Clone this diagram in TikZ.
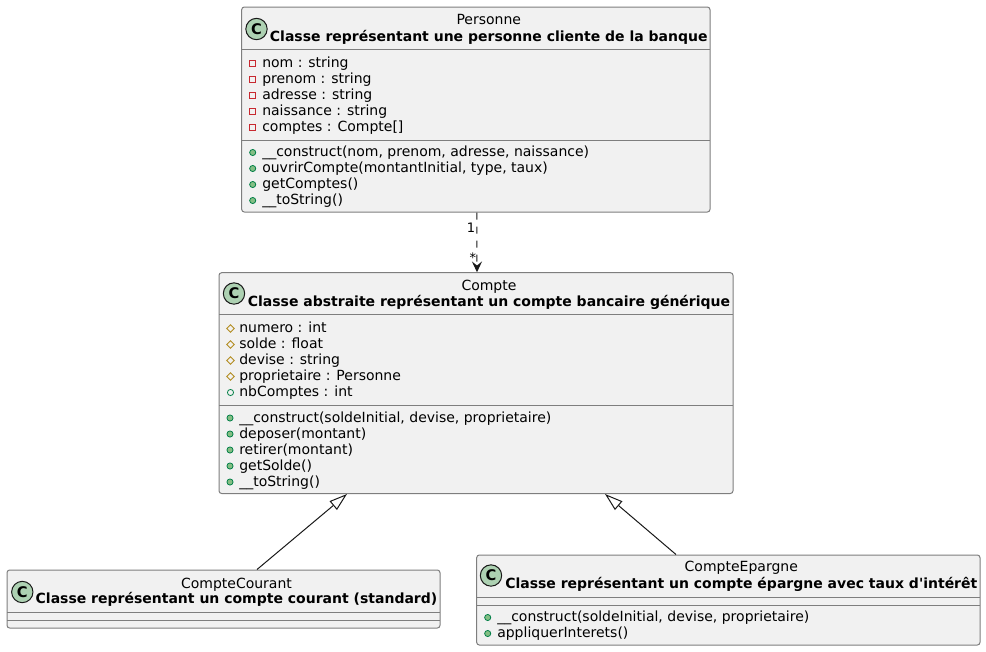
\documentclass[tikz,border=0pt]{standalone}
\usepackage{fontspec}
\setmainfont{DejaVu Sans}
\usetikzlibrary{arrows.meta,fit,calc}
\definecolor{boxfill}{HTML}{F1F1F1}
\definecolor{boxline}{HTML}{7E7E7E}
\definecolor{linecol}{HTML}{181818}
\definecolor{cfill}{HTML}{ADD1B2}
\definecolor{privcol}{HTML}{C82930}
\definecolor{protcol}{HTML}{B38D22}
\definecolor{pubcol}{HTML}{038048}
\definecolor{pubfill}{HTML}{84BE84}
\tikzset{
  classbox/.style={draw=boxline, fill=boxfill, line width=0.75pt, rounded corners=2pt, inner sep=0pt},
  sepline/.style={draw=boxline, line width=0.75pt},
  member/.style={anchor=base west, inner sep=0pt, font=\fontsize{10.5}{12}\selectfont},
  cname/.style={anchor=base, inner sep=0pt, font=\fontsize{10.5}{12}\selectfont},
  ctitle/.style={anchor=base, inner sep=0pt, font=\fontsize{10.5}{12}\selectfont\bfseries},
  cicon/.style={circle, draw=linecol, line width=0.75pt, fill=cfill, minimum size=16pt, inner sep=0pt, font=\fontsize{11}{11}\selectfont\bfseries},
  lbl/.style={anchor=base, inner sep=0pt, font=\fontsize{9.75}{11}\selectfont},
  dep/.style={draw=linecol, line width=0.75pt, dash pattern=on 5.25pt off 5.25pt, -{Stealth[length=8pt, width=7.5pt, inset=3pt]}},
  inh/.style={draw=linecol, line width=0.75pt, -{Triangle[open, length=13.5pt, width=8.5pt]}},
  priv/.pic={\draw[privcol, line width=0.6pt] (-3,-3) rectangle (3,3);},
  prot/.pic={\draw[protcol, line width=0.6pt] (0,-3.8) -- (3.8,0) -- (0,3.8) -- (-3.8,0) -- cycle;},
  pubm/.pic={\draw[pubcol, fill=pubfill, line width=0.6pt] (0,0) circle (2.3pt);},
  pubf/.pic={\draw[pubcol, line width=0.6pt] (0,0) circle (2.3pt);},
}
\begin{document}
\begin{tikzpicture}[x=0.75pt, y=-0.75pt]
\useasboundingbox (0,0) rectangle (986,651);

% ---------- Personne ----------
\node[classbox, fit={(241.7,7) (710,212)}] (personne) {};
\draw[sepline] (241.7,49) -- (710,49);
\draw[sepline] (241.7,140) -- (710,140);
\node[cicon] (p-c) at (256.5,29) {C};
\node[cname] (p-n) at (488.8,24.3) {Personne};
\node[ctitle] (p-t) at (488.8,41) {Classe représentant une personne cliente de la banque};
\pic at (252.7,63) {priv}; \node[member] (p-a1) at (262,67) {nom : string};
\pic at (252.7,79) {priv}; \node[member] (p-a2) at (262,83) {prenom : string};
\pic at (252.7,95) {priv}; \node[member] (p-a3) at (262,99) {adresse : string};
\pic at (252.7,111) {priv}; \node[member] (p-a4) at (262,115) {naissance : string};
\pic at (252.7,127) {priv}; \node[member] (p-a5) at (262,131) {comptes : Compte[]};
\pic at (252.7,152.5) {pubm}; \node[member] (p-m1) at (262,156.5) {\_\_construct(nom, prenom, adresse, naissance)};
\pic at (252.7,168.5) {pubm}; \node[member] (p-m2) at (262,172.5) {ouvrirCompte(montantInitial, type, taux)};
\pic at (252.7,184.5) {pubm}; \node[member] (p-m3) at (262,188.5) {getComptes()};
\pic at (252.7,200.5) {pubm}; \node[member] (p-m4) at (262,204.5) {\_\_toString()};

% ---------- Compte ----------
\node[classbox, fit={(219,272.7) (733,493.5)}] (compte) {};
\draw[sepline] (219,314.5) -- (733,314.5);
\draw[sepline] (219,405.5) -- (733,405.5);
\node[cicon] (c-c) at (234,293.5) {C};
\node[cname] (c-n) at (489,290) {Compte};
\node[ctitle] (c-t) at (489,306.5) {Classe abstraite représentant un compte bancaire générique};
\pic at (230.5,328.5) {prot}; \node[member] (c-a1) at (239,332.5) {numero : int};
\pic at (230.5,344.5) {prot}; \node[member] (c-a2) at (239,348.5) {solde : float};
\pic at (230.5,360.5) {prot}; \node[member] (c-a3) at (239,364.5) {devise : string};
\pic at (230.5,376.5) {prot}; \node[member] (c-a4) at (239,380.5) {proprietaire : Personne};
\pic at (230.5,392.5) {pubf}; \node[member] (c-a5) at (239,396.5) {nbComptes : int};
\pic at (230,418) {pubm}; \node[member] (c-m1) at (239,422) {\_\_construct(soldeInitial, devise, proprietaire)};
\pic at (230,434) {pubm}; \node[member] (c-m2) at (239,438) {deposer(montant)};
\pic at (230,450) {pubm}; \node[member] (c-m3) at (239,454) {retirer(montant)};
\pic at (230,466) {pubm}; \node[member] (c-m4) at (239,470) {getSolde()};
\pic at (230,482) {pubm}; \node[member] (c-m5) at (239,486) {\_\_toString()};

% ---------- CompteCourant ----------
\node[classbox, fit={(7,570) (440,628)}] (courant) {};
\draw[sepline] (7,612.5) -- (440,612.5);
\draw[sepline] (7,620.5) -- (440,620.5);
\node[cicon] (cc-c) at (22.3,592) {C};
\node[cname] (cc-n) at (236.5,588) {CompteCourant};
\node[ctitle] (cc-t) at (236.5,603.5) {Classe représentant un compte courant (standard)};

% ---------- CompteEpargne ----------
\node[classbox, fit={(476.7,555) (980,645)}] (epargne) {};
\draw[sepline] (476.7,597) -- (980,597);
\draw[sepline] (476.7,605) -- (980,605);
\node[cicon] (ce-c) at (491,575.5) {C};
\node[cname] (ce-n) at (741.3,571.7) {CompteEpargne};
\node[ctitle] (ce-t) at (741.3,588) {Classe représentant un compte épargne avec taux d\textquotesingle intérêt};
\pic at (487.7,617.5) {pubm}; \node[member] (ce-m1) at (497,621.5) {\_\_construct(soldeInitial, devise, proprietaire)};
\pic at (487.7,633.5) {pubm}; \node[member] (ce-m2) at (497,637.5) {appliquerInterets()};

% ---------- Connectors ----------
\draw[dep] ($(personne.south)+(1,0)$) -- ($(compte.north)+(1,0)$);
\node[lbl] (lbl1) at (471,232) {1};
\node[lbl] (lbl2) at (472.8,262) {*};
\draw[inh] ($(courant.north)+(33.5,0)$) -- ($(compte.south)+(-129,0)$);
\draw[inh] ($(epargne.north)+(-52.35,0)$) -- ($(compte.south)+(129,0)$);
\end{tikzpicture}
\end{document}
